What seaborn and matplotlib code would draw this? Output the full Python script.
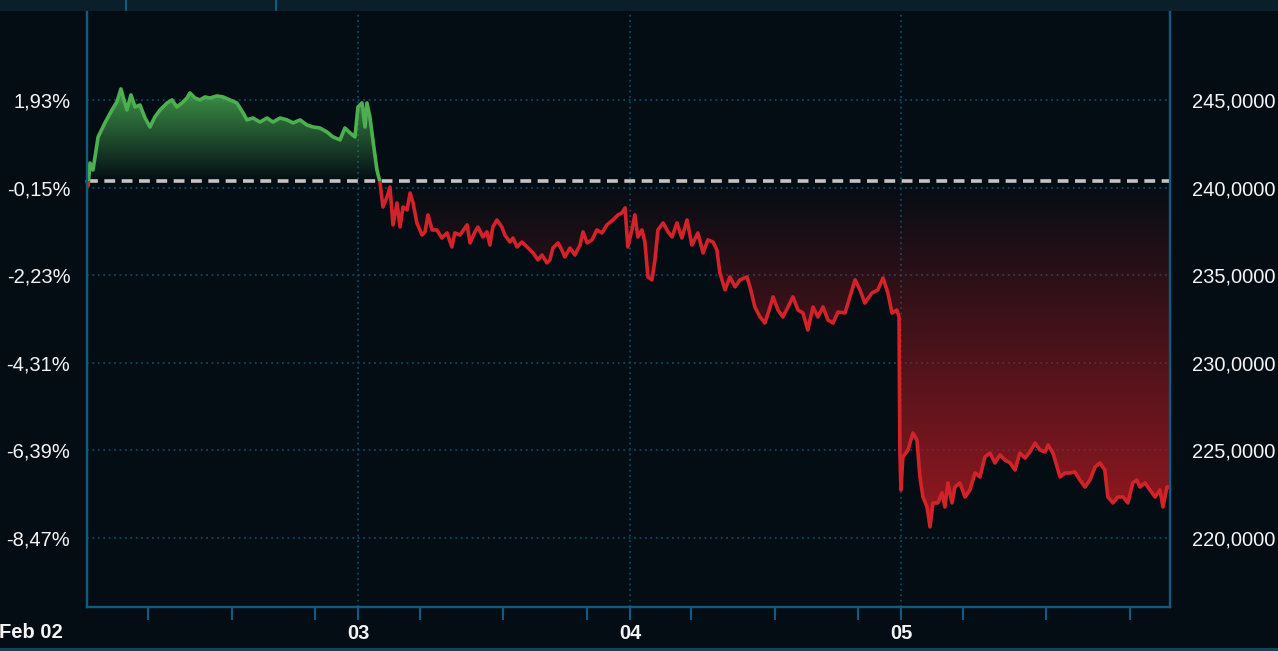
import numpy as np
import pandas as pd
import seaborn as sns
import matplotlib
matplotlib.use("Agg")
import matplotlib.pyplot as plt
from matplotlib.path import Path
from matplotlib.patches import PathPatch, Rectangle
from matplotlib.lines import Line2D

# ---------------- data ----------------
# time in days since Feb 02 00:00, price
t_days = [
    0.000, 0.004, 0.011, 0.022, 0.041, 0.066, 0.092, 0.110, 0.125, 0.133,
    0.147, 0.162, 0.177, 0.195, 0.214, 0.232, 0.250, 0.269, 0.295, 0.313,
    0.331, 0.350, 0.368, 0.379, 0.398, 0.416, 0.435, 0.453, 0.479, 0.501,
    0.527, 0.552, 0.575, 0.589, 0.611, 0.637, 0.663, 0.685, 0.711, 0.737,
    0.759, 0.785, 0.810, 0.832, 0.858, 0.884, 0.906, 0.932, 0.950, 0.969,
    0.987, 0.998, 1.013, 1.024, 1.031, 1.042, 1.053, 1.068, 1.079,
    1.090, 1.105, 1.116, 1.127, 1.142, 1.153, 1.164, 1.179, 1.190, 1.201,
    1.215, 1.234, 1.245, 1.256, 1.271, 1.289, 1.307, 1.326, 1.344, 1.355,
    1.374, 1.400, 1.411, 1.429, 1.440, 1.458, 1.473, 1.484, 1.495, 1.510,
    1.528, 1.539, 1.558, 1.569, 1.584, 1.602, 1.621, 1.643, 1.661, 1.676,
    1.694, 1.705, 1.716, 1.735, 1.749, 1.760, 1.779, 1.797, 1.816, 1.827,
    1.842, 1.860, 1.878, 1.897, 1.915, 1.937, 1.956, 1.970, 1.982, 1.992,
    2.007, 2.018, 2.029, 2.044, 2.055, 2.066, 2.081, 2.092, 2.103, 2.122,
    2.140, 2.155, 2.173, 2.191, 2.210, 2.228, 2.250, 2.269, 2.287, 2.306,
    2.320, 2.331, 2.350, 2.368, 2.387, 2.405, 2.431, 2.442, 2.460, 2.479,
    2.497, 2.516, 2.527, 2.545, 2.563, 2.582, 2.600, 2.619, 2.637, 2.655,
    2.674, 2.692, 2.711, 2.729, 2.748, 2.766, 2.792, 2.810, 2.829, 2.847,
    2.865, 2.891, 2.913, 2.932, 2.950, 2.965, 2.983, 2.991, 2.994, 2.998,
    3.005, 3.024, 3.042, 3.057, 3.068, 3.079, 3.094, 3.105, 3.116, 3.134,
    3.149, 3.160, 3.171, 3.186, 3.197, 3.215, 3.234, 3.252, 3.271, 3.289,
    3.307, 3.326, 3.344, 3.363, 3.381, 3.400, 3.418, 3.436, 3.455, 3.473,
    3.492, 3.510, 3.529, 3.540, 3.558, 3.573, 3.584, 3.602, 3.621, 3.639,
    3.657, 3.676, 3.694, 3.713, 3.731, 3.749, 3.760, 3.779, 3.797, 3.816,
    3.834, 3.852, 3.867, 3.878, 3.897, 3.915, 3.934, 3.952, 3.963, 3.978,
    3.985,
]
price = [
    240.36, 240.09, 241.40, 241.00, 242.89, 243.69, 244.43, 244.89, 245.63, 245.17,
    244.43, 245.29, 244.60, 244.71, 243.97, 243.46, 244.03, 244.43, 244.83, 245.00,
    244.60, 244.83, 245.11, 245.40, 245.11, 245.00, 245.17, 245.11, 245.23, 245.17,
    245.00, 244.83, 244.26, 243.86, 243.97, 243.74, 243.97, 243.74, 243.97, 243.86,
    243.69, 243.86, 243.57, 243.46, 243.40, 243.17, 242.89, 242.72, 243.40, 243.12,
    242.89, 244.60, 244.83, 243.46, 244.83, 244.03, 242.72, 241.00, 240.32,
    238.89, 239.46, 240.03, 237.87, 239.12, 237.75, 238.89, 238.72, 239.69, 239.12,
    237.98, 237.29, 237.47, 238.44, 237.58, 237.58, 237.12, 237.41, 236.61, 237.41,
    237.29, 237.87, 236.84, 237.47, 237.75, 237.18, 237.47, 236.72, 237.75, 238.15,
    237.75, 237.29, 236.89, 237.12, 236.61, 236.89, 236.61, 236.27, 235.87, 236.15,
    235.70, 235.87, 236.55, 236.84, 236.44, 236.04, 236.55, 236.15, 236.72, 237.47,
    236.84, 237.01, 237.58, 237.41, 237.87, 238.15, 238.44, 238.55, 238.84, 236.61,
    237.58, 238.44, 237.18, 237.58, 236.89, 234.90, 234.73, 235.87, 237.58, 237.98,
    237.47, 237.18, 237.98, 237.12, 238.15, 236.72, 237.41, 236.27, 237.01, 236.89,
    236.44, 235.13, 234.16, 234.90, 234.33, 234.73, 234.90, 234.33, 233.18, 232.61,
    232.27, 233.18, 233.76, 233.01, 232.61, 233.18, 233.76, 233.01, 232.84, 231.87,
    233.18, 232.61, 233.18, 232.44, 232.27, 232.90, 232.84, 233.76, 234.73, 234.16,
    233.41, 233.98, 234.16, 234.84, 233.98, 232.84, 233.01, 232.61, 225.02, 222.74,
    224.62, 225.02, 225.99, 225.59, 223.48, 222.34, 221.77, 220.63, 222.00, 222.00,
    222.57, 221.77, 223.14, 222.00, 222.91, 223.14, 222.34, 222.74, 223.71, 223.48,
    224.62, 224.85, 224.28, 224.74, 224.45, 224.28, 223.88, 224.85, 224.56, 224.91,
    225.42, 225.02, 224.91, 225.31, 224.85, 224.05, 223.48, 223.71, 223.71, 223.77,
    223.31, 222.91, 223.31, 224.05, 224.28, 223.88, 222.34, 222.00, 222.34, 222.34,
    222.00, 223.14, 223.31, 222.91, 223.14, 222.74, 222.34, 222.74, 221.77, 222.91,
    222.91,
]
base_price = 240.36
price_ticks = [220, 225, 230, 235, 240, 245]
price_labels = ["220,0000", "225,0000", "230,0000", "235,0000", "240,0000", "245,0000"]
pct_labels = ["-8,47%", "-6,39%", "-4,31%", "-2,23%", "-0,15%", "1,93%"]
day_ticks = [1, 2, 3]
day_labels = ["03", "04", "05"]
first_day_label = "Feb 02"
minor_offsets = [0.2265, 0.534, 0.840]

# ---------------- style ----------------
BG = "#040d14"
STRIP = "#0b1f2b"
SPINE = "#0f5b82"
GRID = "#0d4766"
TXT = "#f4f4f4"
GREEN = "#4cb050"
RED = "#d4222a"

sns.set_style("dark")
plt.rcParams["font.family"] = ["Liberation Sans", "DejaVu Sans"]

df = pd.DataFrame({"t": t_days, "price": price})
x = np.asarray(t_days)
y = np.asarray(price)

W, H = 1278, 651
fig = plt.figure(figsize=(W / 100, H / 100), dpi=100, facecolor=BG)
ax = fig.add_axes([87 / W, 1 - 607 / H, (1170 - 87) / W, (607 - 12) / H])
ax.set_facecolor(BG)

XMIN, XMAX = 0.0, 3.989
YMIN, YMAX = 216.06, 250.02


def gradient_fill(above, rgb, alpha_max):
    where = (y >= base_price) if above else (y <= base_price)
    poly = ax.fill_between(x, y, base_price, where=where, interpolate=True,
                           facecolor="none", edgecolor="none", lw=0)
    paths = poly.get_paths()
    poly.remove()
    path = Path.make_compound_path(*paths)
    patch = PathPatch(path, transform=ax.transData, facecolor="none",
                      edgecolor="none")
    ax.add_patch(patch)
    n = 256
    a = np.linspace(0, 1, n)
    if above:
        lo, hi = base_price, y.max()
        alpha = a * alpha_max
    else:
        lo, hi = y.min(), base_price
        alpha = (1 - a) * alpha_max
    img = np.zeros((n, 2, 4))
    img[..., 0] = rgb[0]
    img[..., 1] = rgb[1]
    img[..., 2] = rgb[2]
    img[..., 3] = alpha[:, None]
    im = ax.imshow(img, extent=[XMIN, XMAX, lo, hi], origin="lower",
                   aspect="auto", zorder=1, interpolation="bilinear")
    im.set_clip_path(patch)


gradient_fill(True, (0.26, 0.62, 0.30), 0.95)
gradient_fill(False, (0.62, 0.10, 0.13), 0.95)

# grid
for v in price_ticks:
    ax.axhline(v, color=GRID, lw=1.3, ls=(0, (1, 2)), zorder=0.5)
for v in day_ticks:
    ax.axvline(v, color=GRID, lw=1.3, ls=(0, (1, 2)), zorder=0.5)

# baseline
ax.axhline(base_price, color="#c4c4c4", lw=2.6, ls=(0, (3.0, 1.8)), zorder=3)

# line: green above base, red below
for col, up in ((GREEN, True), (RED, False)):
    sns.lineplot(data=df, x="t", y="price", ax=ax, color=col, lw=2.6,
                 sort=False, estimator=None, zorder=4)
    ln = ax.lines[-1]
    ln.set_solid_joinstyle("round")
    if up:
        rect = Rectangle((XMIN - 1, base_price), 10, 100, transform=ax.transData)
    else:
        rect = Rectangle((XMIN - 1, base_price - 100), 10, 100, transform=ax.transData)
    ln.set_clip_path(rect)

ax.set_xlim(XMIN, XMAX)
ax.set_ylim(YMIN, YMAX)
ax.set_xlabel("")
ax.set_ylabel("")
ax.grid(False)

# x ticks
ax.set_xticks(day_ticks, labels=day_labels)
ax.set_xticks([d + o for d in range(4) for o in minor_offsets], minor=True)
ax.tick_params(axis="x", which="both", length=9.5, width=1.5, color=SPINE,
               labelcolor=TXT, labelsize=14.5, pad=3, direction="out", bottom=True)
for lab in ax.get_xticklabels():
    lab.set_fontweight("bold")

# left y (percent)
ax.set_yticks(price_ticks, labels=pct_labels)
ax.tick_params(axis="y", length=0, labelsize=14.5, pad=12, colors=TXT, left=True)

# right y (price)
ax2 = ax.twinx()
ax2.set_ylim(YMIN, YMAX)
ax2.set_yticks(price_ticks, labels=price_labels)
ax2.tick_params(axis="y", length=0, labelsize=14.5, pad=16, colors=TXT, right=True)
ax2.grid(False)

for a_ in (ax, ax2):
    for s in ("left", "right", "bottom"):
        a_.spines[s].set_color(SPINE)
        a_.spines[s].set_linewidth(1.6)
        a_.spines[s].set_visible(True)
    a_.spines["top"].set_visible(False)

fig.text(63 / W, 1 - 633 / H, first_day_label, ha="right", va="center",
         color=TXT, fontsize=14.5, fontweight="bold")

# window chrome: top strip and bottom rule
fig.add_artist(Rectangle((0, 1 - 11 / H), 1, 11 / H, transform=fig.transFigure,
                         facecolor=STRIP, edgecolor="none", zorder=0))
for px in (126, 276):
    fig.add_artist(Line2D([px / W, px / W], [1, 1 - 10 / H], transform=fig.transFigure,
                          color=SPINE, lw=1.5))
fig.add_artist(Line2D([0, 1], [1 - 649 / H, 1 - 649 / H], transform=fig.transFigure,
                      color="#0d4a66", lw=2))

fig.savefig("out.png", dpi=100, facecolor=BG)
